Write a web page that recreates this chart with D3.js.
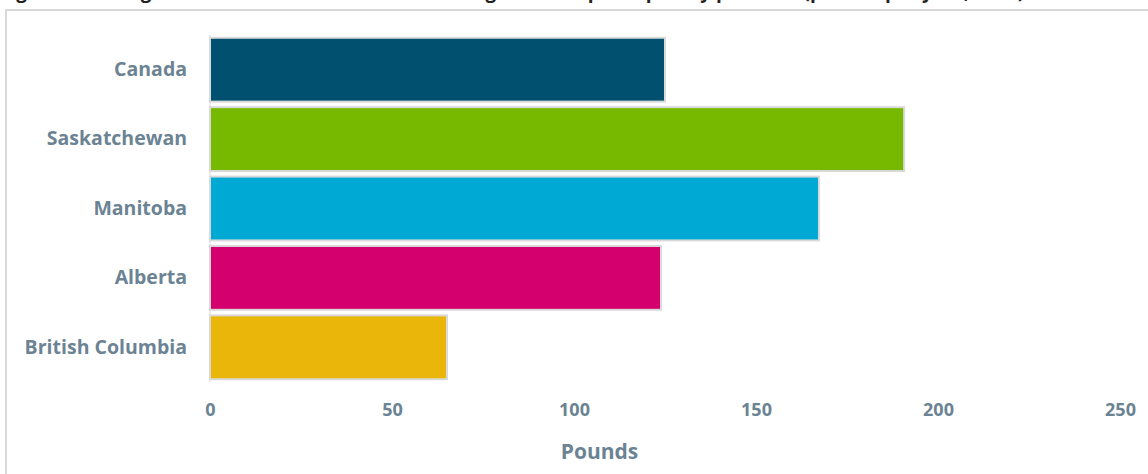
<!DOCTYPE html>
<html>
<head>
<meta charset="utf-8">
<script src="https://cdn.jsdelivr.net/npm/d3@7"></script>
<style>
  body { margin: 0; background: #fff; }
  text { font-family: "Open Sans", Lato, sans-serif; font-weight: bold; }
</style>
</head>
<body>
<div id="chart-area"></div>
<script>
// data
var provinces = ["Canada", "Saskatchewan", "Manitoba", "Alberta", "British Columbia"];
var pounds = [125, 190.7, 167.3, 123.9, 65.1];
var barColors = ["#01506f", "#77b900", "#00a9d4", "#d4006d", "#ebb60a"];
var xTicks = [0, 50, 100, 150, 200, 250];

var W = 1148, H = 474;
var margin = { left: 210, right: 28, top: 35, bottom: 92 };
var width = W - margin.left - margin.right;
var height = H - margin.top - margin.bottom;

var svg = d3.select("#chart-area").append("svg")
    .attr("width", W)
    .attr("height", H);

// title, cut off above the frame (only descenders show)
svg.append("text")
    .attr("x", 0)
    .attr("y", -2)
    .attr("font-size", "19px")
    .attr("fill", "#222")
    .text("Figure 4: Average amount of household food waste generated per capita by province (pounds per year, 2016)");

// chart frame
svg.append("rect")
    .attr("x", 6)
    .attr("y", 10)
    .attr("width", W + 10)
    .attr("height", H + 10)
    .attr("fill", "none")
    .attr("stroke", "#d9d9d9")
    .attr("stroke-width", 2);

var g = svg.append("g")
    .attr("transform", `translate(${margin.left}, ${margin.top})`);

var x = d3.scaleLinear()
    .domain([0, 250])
    .range([0, width]);

var y = d3.scaleBand()
    .domain(provinces)
    .range([0, height])
    .paddingInner(0.08)
    .paddingOuter(0.04);

// y axis line
g.append("line")
    .attr("x1", 0).attr("x2", 0)
    .attr("y1", 0).attr("y2", height)
    .attr("stroke", "#d9d9d9")
    .attr("stroke-width", 1);

// bars
g.selectAll("rect.bar")
    .data(provinces)
    .enter()
    .append("rect")
    .attr("class", "bar")
    .attr("x", x(0))
    .attr("y", function (d) { return y(d); })
    .attr("width", function (d, i) { return x(pounds[i]) - x(0); })
    .attr("height", y.bandwidth())
    .attr("fill", function (d, i) { return barColors[i]; })
    .attr("stroke", "#d9d9d9")
    .attr("stroke-width", 2);

// category labels
var yAxis = g.append("g")
    .call(d3.axisLeft(y).tickSize(0).tickPadding(23));
yAxis.select(".domain").remove();
yAxis.selectAll("text")
    .attr("font-size", "19.5px")
    .attr("fill", "#6b8393")
    .style("font-family", "'Open Sans', Lato, sans-serif")
    .style("font-weight", "bold");

// x axis labels
var xAxis = g.append("g")
    .attr("transform", `translate(0, ${height})`)
    .call(d3.axisBottom(x).tickValues(xTicks).tickSize(0).tickPadding(21));
xAxis.select(".domain").remove();
xAxis.selectAll("text")
    .attr("font-size", "18px")
    .attr("fill", "#6b8393")
    .style("font-family", "'Open Sans', Lato, sans-serif")
    .style("font-weight", "bold");

// axis title
g.append("text")
    .attr("x", x(107))
    .attr("y", height + 77)
    .attr("text-anchor", "middle")
    .attr("font-size", "21px")
    .attr("fill", "#6b8393")
    .text("Pounds");
</script>
</body>
</html>
